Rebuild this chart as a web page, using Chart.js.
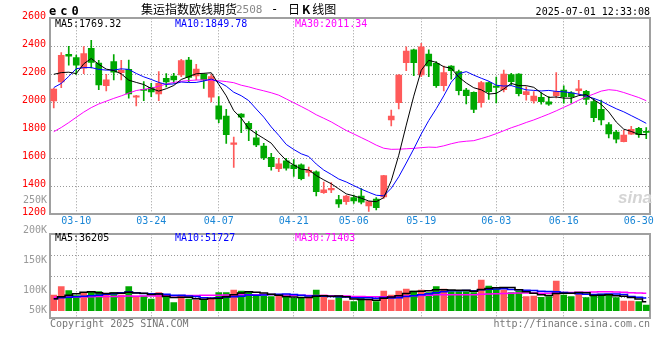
<!DOCTYPE html>
<html><head><meta charset="utf-8">
<script src="https://cdn.jsdelivr.net/npm/chart.js@4.4.1/dist/chart.umd.min.js"></script>
<style>
html,body{margin:0;padding:0;background:#fff;}
#wrap{position:relative;width:660px;height:360px;overflow:hidden;background:#fff;}
canvas{position:absolute;left:0;}
.t{position:absolute;white-space:nowrap;font-family:'DejaVu Sans Mono',monospace;font-size:10px;line-height:12px;color:#000;}
.cjk{font-family:'Noto Sans CJK SC',sans-serif;font-size:12px;line-height:14px;}
</style></head><body>
<div id="wrap">
<canvas id="pc" width="660" height="240" style="top:0"></canvas>
<canvas id="vc" width="660" height="170" style="top:190px"></canvas>
<div class="t" style="left:49px;top:5px;font-weight:bold;font-size:12px;letter-spacing:4px;">ec0</div>
<div class="t cjk" style="left:141px;top:2px;">集运指数欧线期货</div>
<div class="t" style="left:236px;top:4px;color:#888;font-size:11px;">2508</div>
<div class="t" style="left:271px;top:3px;font-size:12px;">-</div>
<div class="t cjk" style="left:288px;top:2px;">日<b style="padding:0 2px;">K</b>线图</div>
<div class="t" style="right:10px;top:6px;">2025-07-01 12:33:08</div>
<div class="t" id="pm5" style="left:55px;top:18px;color:#000;"></div>
<div class="t" id="pm10" style="left:175px;top:18px;color:#0000ff;"></div>
<div class="t" id="pm30" style="left:295px;top:18px;color:#ff00ff;"></div>
<div class="t" id="vm5" style="left:55px;top:232px;color:#000;"></div>
<div class="t" id="vm10" style="left:175px;top:232px;color:#0000ff;"></div>
<div class="t" id="vm30" style="left:295px;top:232px;color:#ff00ff;"></div>
<div class="t" style="left:50px;top:318px;color:#777;">Copyright 2025 SINA.COM</div>
<div class="t" style="right:10px;top:318px;color:#777;">http://finance.sina.com.cn</div>
<div class="t" style="left:618px;top:188px;font-family:'Liberation Sans',sans-serif;font-style:italic;font-weight:bold;font-size:17px;line-height:20px;color:#d4d4d4;">sina</div>
</div>
<script>
const dates = ['03-05','03-06','03-07','03-10','03-11','03-12','03-13','03-14','03-17','03-18','03-19','03-20','03-21','03-24','03-25','03-26','03-27','03-28','03-31',
'04-01','04-02','04-03','04-07','04-08','04-09','04-10','04-11','04-14','04-15','04-16','04-17','04-18','04-21','04-22','04-23','04-24','04-25','04-28','04-29','04-30',
'05-06','05-07','05-08','05-09','05-12','05-13','05-14','05-15','05-16','05-19','05-20','05-21','05-22','05-23','05-26','05-27','05-28','05-29','05-30',
'06-03','06-04','06-05','06-06','06-09','06-10','06-11','06-12','06-13','06-16','06-17','06-18','06-19','06-20','06-23','06-24','06-25','06-26','06-27','06-30',
'07-01'];
const tickDates = ['03-10','03-24','04-07','04-21','05-06','05-19','06-03','06-16','06-30'];
const gridDates = ['03-10','03-24','04-07','04-21','05-06','05-19','06-03','06-16'];

const opens = [2010,2145,2343,2320,2243,2386,2280,2118,2290,2212,
2235,2036,2092,2107,2060,2172,2188,2195,2302,2188,
2202,2036,1974,1902,1700,1916,1850,1747,1688,1607,
1526,1582,1552,1553,1499,1504,1355,1374,1305,1290,
1320,1331,1260,1309,1325,1874,1997,2283,2374,2195,
2345,2278,2119,2259,2219,2088,2071,1997,2140,2115,
2090,2198,2202,2055,2010,2036,2003,2048,2088,2068,
2083,2078,2005,1950,1840,1788,1719,1772,1814,1790];
const highs = [2100,2355,2400,2338,2398,2443,2300,2200,2340,2300,
2302,2050,2148,2136,2219,2205,2207,2307,2321,2271,
2205,2198,2040,1950,1752,1920,1862,1795,1707,1636,
1600,1600,1590,1560,1538,1510,1430,1426,1335,1335,
1338,1383,1292,1320,1478,1945,2198,2397,2381,2421,
2374,2290,2259,2262,2231,2100,2074,2150,2147,2180,
2230,2207,2205,2110,2076,2070,2040,2212,2118,2076,
2157,2085,2028,2016,1855,1800,1800,1828,1821,1820];
const lows = [1960,2105,2265,2200,2205,2245,2090,2082,2160,2160,
2030,1975,2012,2040,2012,2110,2136,2183,2148,2160,
2100,2003,1855,1707,1535,1783,1726,1683,1590,1516,
1505,1516,1470,1445,1472,1332,1350,1355,1250,1270,
1278,1274,1220,1232,1314,1831,1952,2226,2190,2183,
2183,2107,2081,2166,2052,1988,1926,1966,2021,1995,
2075,2120,2045,2016,1993,1987,1977,2032,1993,1993,
2052,1985,1862,1838,1745,1710,1717,1770,1750,1740];
const closes = [2095,2336,2330,2266,2348,2285,2125,2160,2215,2228,
2060,2047,2085,2074,2136,2145,2160,2298,2178,2238,
2160,2183,1880,1768,1710,1893,1810,1695,1602,1540,
1560,1530,1526,1455,1514,1362,1374,1386,1275,1331,
1295,1286,1290,1248,1476,1902,2195,2366,2283,2397,
2259,2119,2212,2226,2083,2048,1950,2140,2076,2107,
2202,2148,2062,2076,2045,2005,1986,2076,2040,2040,
2097,2021,1891,1874,1774,1737,1766,1807,1768,1785];

const ma5 = [2200,2212,2215,2205,2275,2313,2271,2237,2227,2203,
2158,2142,2127,2099,2080,2097,2120,2163,2183,2204,
2207,2211,2128,2046,1940,1887,1812,1775,1742,1708,
1641,1585,1552,1522,1517,1477,1446,1418,1382,1346,
1332,1315,1295,1290,1319,1440,1622,1837,2044,2229,
2300,2285,2254,2243,2180,2138,2104,2089,2059,2064,
2095,2135,2119,2119,2107,2067,2035,2038,2030,2029,
2048,2055,2018,1985,1931,1859,1808,1792,1770,1769.32];
const ma10 = [2105,2135,2185,2240,2248,2248,2235,2230,2230,2239,
2235,2206,2182,2163,2142,2128,2131,2145,2141,2142,
2152,2166,2145,2115,2072,2047,2012,1952,1894,1824,
1764,1699,1663,1632,1613,1559,1516,1485,1452,1431,
1405,1380,1357,1336,1332,1386,1468,1566,1667,1774,
1870,1954,2046,2144,2204,2219,2194,2172,2151,2122,
2116,2119,2104,2089,2085,2081,2085,2078,2075,2068,
2058,2045,2028,2008,1980,1954,1932,1905,1878,1849.78];
const ma30 = [1790,1820,1855,1893,1930,1962,1988,2008,2028,2046,
2066,2084,2093,2100,2115,2130,2142,2150,2155,2159,
2160,2158,2154,2148,2140,2122,2110,2095,2082,2068,
2051,2024,1997,1970,1942,1911,1886,1860,1829,1799,
1774,1748,1722,1694,1672,1664,1665,1668,1671,1676,
1680,1678,1689,1704,1716,1722,1726,1741,1757,1776,
1797,1818,1836,1856,1874,1895,1916,1939,1964,1988,
2015,2039,2059,2080,2090,2085,2070,2052,2034,2011.34];

const volumes = [64400,98400,82000,61500,70900,77900,77900,64400,73800,64400,
98400,60300,60300,48000,73800,54500,32800,64400,48000,43900,
43900,48000,73800,73800,84900,80800,77900,60300,60300,57400,
60300,54500,50400,50400,54500,84900,64400,43900,54500,39800,
36900,54500,43900,36900,80800,64400,80800,89000,80800,84900,
73800,98400,89000,77900,77900,77900,73800,125900,101300,89000,
84900,73800,80800,57400,60300,54500,57400,121800,64400,57400,
70900,53300,64400,68500,68500,53300,39800,39800,36900,23400];
const vma5 = [49200,57400,63600,69700,75400,78100,74000,70500,73000,71700,
75800,72200,71400,66300,68100,59400,53900,54700,54700,48700,
46600,49600,51500,56700,64900,72200,78200,75500,72800,67300,
63200,58500,56600,54600,54000,59000,60900,59600,60400,57500,
47900,45900,45900,42400,50600,56100,61300,70400,79100,80000,
81800,85400,85400,84800,83400,84200,79300,86700,91300,93600,
95000,95000,85900,77200,71400,65400,62100,70300,71700,71100,
74400,73600,62100,62900,65100,61600,58900,54000,47600,36205];
const vma10 = [49200,53300,55400,57400,59500,61500,63600,67700,69700,73600,
77000,73100,71000,69600,69900,67600,63100,63100,60500,58400,
53000,51700,53100,55700,56800,59400,63900,63500,64700,66100,
67700,68400,66100,63700,60700,61100,59700,58100,57500,55800,
53400,53400,52800,51400,54000,52000,53600,58100,60800,65300,
69000,73300,77900,82000,81700,83000,82300,86000,88100,88500,
89600,87100,86300,84300,82500,80200,78500,78100,74400,71300,
69900,67800,66200,67300,68100,68000,66200,58000,55300,51727];
const vma30 = [54900,55300,56100,56400,57200,57000,57800,58600,58100,58900,
59800,59400,60100,60700,60200,61300,61000,61600,62400,62100,
62900,63500,63100,64000,64600,65300,65000,65800,66200,66000,
65900,64400,63400,63000,62400,62700,62200,61500,60900,60100,
58100,57900,57300,56900,57200,57500,59100,59900,61000,62400,
63400,65100,65600,65700,65500,65400,65200,67400,68800,69800,
70600,71300,72300,72500,72700,71700,71500,74100,74400,75000,
76100,76100,76800,77800,77400,77000,75700,74000,72600,71403];

const volLabelText = ['250K','200K','150K','100K','50K'];
const volLabelAt = [250000,200000,150000,100000,67100];

const UP = '#ff5a5a', DOWN = '#00a800';
const GRID = '#999999', FRAME = '#a0a0a0', NONE = 'rgba(0,0,0,0)';
const MONO = 'DejaVu Sans Mono';
const candleColors = opens.map((o, i) => closes[i] >= o ? UP : DOWN);
const gridColorX = ctx => gridDates.includes(dates[ctx.index]) ? GRID : NONE;

document.getElementById('pm5').textContent = 'MA5:' + ma5[ma5.length-1].toFixed(2);
document.getElementById('pm10').textContent = 'MA10:' + ma10[ma10.length-1].toFixed(2);
document.getElementById('pm30').textContent = 'MA30:' + ma30[ma30.length-1].toFixed(2);
document.getElementById('vm5').textContent = 'MA5:' + vma5[vma5.length-1];
document.getElementById('vm10').textContent = 'MA10:' + vma10[vma10.length-1];
document.getElementById('vm30').textContent = 'MA30:' + vma30[vma30.length-1];

const common = {
  responsive: false, animation: false, devicePixelRatio: 1, events: [],
  plugins: { legend: { display: false }, tooltip: { enabled: false }, title: { display: false } }
};
const frameTop = { type: 'category', position: 'top', offset: true, grid: { display: false, drawTicks: false },
  ticks: { display: false }, border: { display: true, color: FRAME, width: 2 }, afterFit: s => { s.height = 0; } };
const lineDs = (data, color, w, extra) => Object.assign({ type: 'line', data, borderColor: color, borderWidth: w,
  pointRadius: 0, tension: 0, fill: false, order: 0, xAxisID: 'x', yAxisID: 'y' }, extra || {});

new Chart(document.getElementById('pc'), {
  type: 'bar',
  data: { labels: dates, datasets: [
    lineDs(ma5, '#000000', 1),
    lineDs(ma10, '#0000ff', 1),
    lineDs(ma30, '#ff00ff', 1),
    { data: opens.map((o, i) => [o, closes[i]]), backgroundColor: candleColors, barThickness: 6,
      grouped: false, minBarLength: 1, order: 1, xAxisID: 'x', yAxisID: 'y' },
    { data: lows.map((l, i) => [l, highs[i]]), backgroundColor: candleColors, barThickness: 1,
      grouped: false, order: 2, xAxisID: 'x', yAxisID: 'y' }
  ]},
  options: Object.assign({}, common, {
    layout: { padding: { left: 0, right: 10, top: 18.3, bottom: 5.7 } },
    scales: {
      x: { type: 'category', position: 'bottom', offset: true,
        grid: { offset: false, color: gridColorX, lineWidth: 1, drawTicks: false },
        border: { display: true, color: FRAME, width: 2, dash: [1, 2] },
        ticks: { autoSkip: false, maxRotation: 0, minRotation: 0, padding: 1, color: '#1a86d6',
          font: { family: MONO, size: 10 },
          callback: (v, i) => tickDates.includes(dates[i]) ? dates[i] : '' },
        afterFit: s => { s.height = 20; } },
      xTop: frameTop,
      y: { type: 'linear', position: 'left', min: 1200, max: 2600,
        ticks: { stepSize: 200, color: '#ff0000', padding: 4, labelOffset: -1.5, font: { family: MONO, size: 10 },
          callback: v => String(v) },
        grid: { color: c => (c.tick.value === 1200 || c.tick.value === 2600) ? NONE : GRID, drawTicks: false },
        border: { display: true, color: FRAME, width: 2, dash: [1, 2] },
        afterFit: s => { s.width = 50; } },
      yRight: { type: 'linear', position: 'right', min: 1200, max: 2600, grid: { display: false, drawTicks: false },
        ticks: { display: false }, border: { display: true, color: FRAME, width: 2 }, afterFit: s => { s.width = 0; } }
    }
  })
});

new Chart(document.getElementById('vc'), {
  type: 'bar',
  data: { labels: dates, datasets: [
    lineDs(vma5, '#000000', 1.5, { stepped: 'middle' }),
    lineDs(vma10, '#0000ff', 1.5, { stepped: 'middle' }),
    lineDs(vma30, '#ff00ff', 1.5, { stepped: 'middle' }),
    { data: volumes, backgroundColor: candleColors, barThickness: 6, order: 1, xAxisID: 'x', yAxisID: 'y' }
  ]},
  options: Object.assign({}, common, {
    layout: { padding: { left: 0, right: 10, top: 44.3, bottom: 41.7 } },
    scales: {
      x: { type: 'category', position: 'bottom', offset: true,
        grid: { offset: false, color: gridColorX, lineWidth: 1, drawTicks: false },
        border: { display: true, color: FRAME, width: 2, dash: [1, 2] },
        ticks: { display: false }, afterFit: s => { s.height = 0; } },
      xTop: frameTop,
      y: { type: 'linear', position: 'left', weight: 0, min: -31160, max: 313240,
        ticks: { display: false, count: 5 },
        grid: { color: c => (c.index === 0 || c.index === 4) ? NONE : GRID, drawTicks: false },
        border: { display: true, color: FRAME, width: 2, dash: [1, 2] },
        afterFit: s => { s.width = 0; } },
      yLab: { type: 'linear', position: 'left', weight: 1, min: 54485, max: 194020,
        grid: { display: false, drawTicks: false }, border: { display: false },
        ticks: { autoSkip: false, color: '#999999', padding: 3, font: { family: MONO, size: 10 },
          callback: (v, i) => volLabelText[i] },
        afterBuildTicks: s => { s.ticks = volLabelAt.map(v => ({ value: v })); },
        afterFit: s => { s.width = 50; } },
      yRight: { type: 'linear', position: 'right', min: 0, max: 1, grid: { display: false, drawTicks: false },
        ticks: { display: false }, border: { display: true, color: FRAME, width: 2 }, afterFit: s => { s.width = 0; } }
    }
  })
});
</script>
</body></html>
